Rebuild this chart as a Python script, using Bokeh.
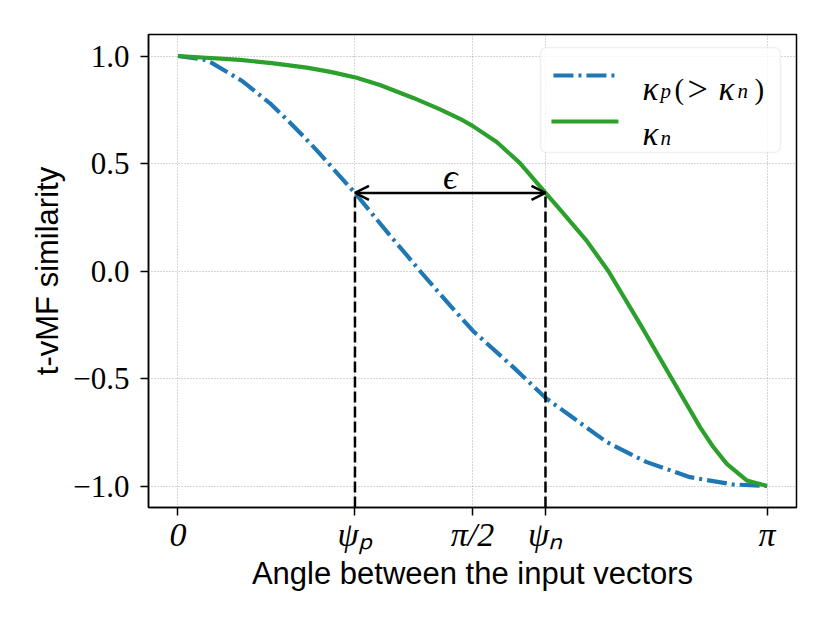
import numpy as np
from bokeh.plotting import figure
from bokeh.models import (Range1d, FixedTicker, Label, Arrow, OpenHead,
                          BoxAnnotation, CustomJSTickFormatter)
from bokeh.embed import file_html
from bokeh.resources import INLINE

# ---- data ----
theta_p = [0.0, 0.135, 0.180, 0.340, 0.491, 0.580, 0.668, 0.749, 0.828, 0.944,
           1.060, 1.131, 1.219, 1.291, 1.451, 1.575, 1.788, 1.960, 2.109, 2.287,
           2.500, 2.731, 2.962, np.pi]
sim_p = [1.0, 0.984, 0.968, 0.885, 0.780, 0.705, 0.628, 0.553, 0.475, 0.363,
         0.240, 0.165, 0.075, 0.0, -0.160, -0.280, -0.447, -0.590, -0.684, -0.796,
         -0.889, -0.959, -0.993, -1.0]

theta_n = [0.0, 0.331, 0.500, 0.687, 0.820, 0.953, 1.077, 1.255, 1.398, 1.504,
           1.571, 1.700, 1.824, 1.960, 2.038, 2.180, 2.295, 2.464, 2.633, 2.784,
           2.856, 2.927, 3.033, np.pi]
sim_n = [1.0, 0.982, 0.967, 0.946, 0.925, 0.899, 0.865, 0.805, 0.752, 0.708,
         0.675, 0.600, 0.502, 0.363, 0.285, 0.140, 0.0, -0.246, -0.500, -0.726,
         -0.820, -0.897, -0.974, -1.0]

psi_p = 0.944
psi_n = 1.960
sim_psi = 0.363

x_ticks = [0.0, psi_p, np.pi / 2, psi_n, np.pi]
x_tick_labels = ["0", "\u03c8\u209a", "\u03c0/2", "\u03c8\u2099", "\u03c0"]
y_ticks = [-1.0, -0.5, 0.0, 0.5, 1.0]
y_tick_labels = ["\u22121.0", "\u22120.5", "0.0", "0.5", "1.0"]

BLUE = "#1f77b4"
GREEN = "#2ca02c"
SERIF = "Liberation Serif"
SANS = "Liberation Sans"
FS = "29px"
FS_SUB = "21px"

x_lo, x_hi = -0.05 * np.pi, 1.05 * np.pi
y_lo, y_hi = -1.1, 1.1

p = figure(width=830, height=623, x_range=Range1d(x_lo, x_hi),
           y_range=Range1d(y_lo, y_hi), output_backend="svg",
           toolbar_location=None, min_border_left=148, min_border_right=34,
           min_border_top=34, min_border_bottom=116)

p.background_fill_color = "white"
p.border_fill_color = "white"
p.outline_line_color = "black"
p.outline_line_width = 1.5
p.outline_line_alpha = 1.0

# axes
p.xaxis.ticker = FixedTicker(ticks=x_ticks)
p.yaxis.ticker = FixedTicker(ticks=y_ticks)
p.xaxis.formatter = CustomJSTickFormatter(args=dict(labels=x_tick_labels),
                                          code="return labels[index]")
p.yaxis.formatter = CustomJSTickFormatter(args=dict(labels=y_tick_labels),
                                          code="return labels[index]")
for ax in (p.xaxis, p.yaxis):
    ax.axis_line_color = "black"
    ax.axis_line_width = 1.5
    ax.major_tick_line_color = "black"
    ax.major_tick_line_width = 1.5
    ax.major_tick_out = 8
    ax.major_tick_in = 0
    ax.minor_tick_line_color = None
    ax.axis_label_text_font = SANS
    ax.axis_label_text_font_size = "31px"
    ax.axis_label_text_font_style = "normal"
    ax.axis_label_text_color = "black"
    ax.major_label_text_font = SERIF
    ax.major_label_text_color = "black"
p.xaxis.major_label_text_font_size = "34px"
p.yaxis.major_label_text_font_size = "31px"
p.xaxis.major_label_text_font_style = "italic"
p.xaxis.major_label_standoff = 0
p.yaxis.major_label_standoff = 11
p.yaxis.axis_label = "t-vMF similarity"
p.yaxis.axis_label_standoff = 5
p.xaxis.axis_label = "Angle between the input vectors"
p.xaxis.axis_label_standoff = 0

for g in (p.xgrid, p.ygrid):
    g.grid_line_color = "#999999"
    g.grid_line_dash = "1 2"
    g.grid_line_width = 1
    g.grid_line_alpha = 0.8

LW = 4.2
DASHDOT = "20 5 3 5"

# curves
p.line(theta_p, sim_p, line_color=BLUE, line_width=LW, line_dash=DASHDOT,
       line_join="round")
p.line(theta_n, sim_n, line_color=GREEN, line_width=LW, line_join="round")

# dashed drop lines
p.segment(x0=[psi_p, psi_n], y0=[y_lo, y_lo], x1=[psi_p, psi_n],
          y1=[sim_psi, sim_psi], line_color="black", line_width=2.5,
          line_dash="11 4")

# double arrow and epsilon
p.add_layout(Arrow(start=OpenHead(size=14, line_width=2.5),
                   end=OpenHead(size=14, line_width=2.5),
                   x_start=psi_p, y_start=sim_psi, x_end=psi_n, y_end=sim_psi,
                   line_width=2.5, line_color="black"))


def lab(x, y, text, size=FS, style="italic", align="left", dx=0, font=SERIF):
    p.add_layout(Label(x=x, y=y, x_offset=dx, text=text, text_font=font,
                       text_font_size=size, text_font_style=style,
                       text_align=align, text_baseline="alphabetic",
                       text_color="black"))


lab((psi_p + psi_n) / 2, sim_psi + 0.075, "\u03f5", size="36px", align="center")

# legend (manual, to allow subscripts)
p.add_layout(BoxAnnotation(left=1.9331, right=3.2130, bottom=0.5512, top=1.0395,
                           fill_color="white", fill_alpha=0.8,
                           line_color="#cccccc", line_width=1.5,
                           border_radius=6))
p.line([2.0025, 2.3438], [0.9093, 0.9093], line_color=BLUE, line_width=LW,
       line_dash=DASHDOT, level="overlay")
p.line([1.9918, 2.3491], [0.6953, 0.6953], line_color=GREEN, line_width=LW,
       level="overlay")
lx = 2.4771
lab(lx, 0.8488, "\u03ba", size="33px")
lab(lx, 0.8349, "p", size=FS_SUB, dx=18)
lab(lx, 0.8488, "(", style="normal", dx=32)
lab(lx, 0.8488, ">", size="36px", style="normal", dx=45)
lab(lx, 0.8488, "\u03ba", size="33px", dx=76)
lab(lx, 0.8349, "n", size=FS_SUB, dx=95)
lab(lx, 0.8488, ")", style="normal", dx=112)
lab(lx, 0.6349, "\u03ba", size="33px")
lab(lx, 0.6209, "n", size=FS_SUB, dx=18)

open("out.html", "w").write(file_html(p, INLINE))
